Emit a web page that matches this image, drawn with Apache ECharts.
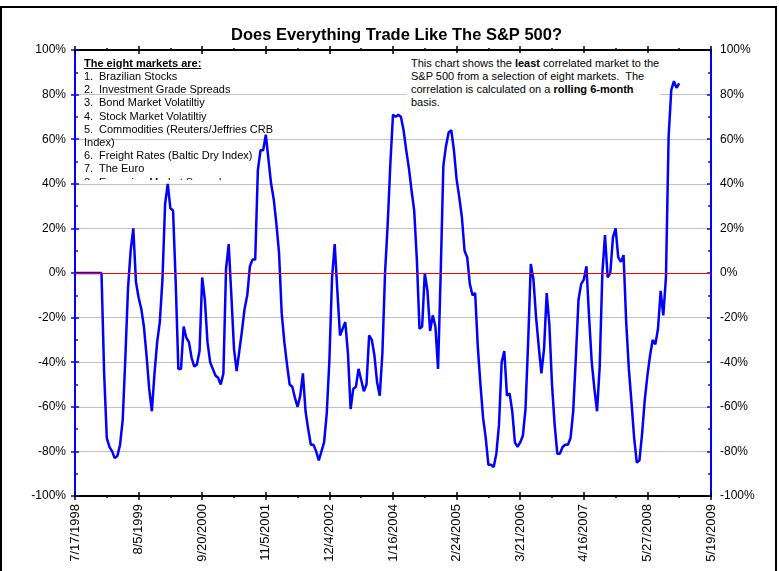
<!DOCTYPE html>
<html>
<head>
<meta charset="utf-8">
<script src="https://cdn.jsdelivr.net/npm/echarts@6/dist/echarts.min.js"></script>
<style>
  html, body { margin: 0; padding: 0; background: #fff; }
  #wrap { position: relative; width: 779px; height: 571px; overflow: hidden; }
  #chart { position: absolute; left: 0; top: 0; width: 779px; height: 571px; }
  .note { position: absolute; font-family: "Liberation Sans", Arial, sans-serif; font-size: 11px; line-height: 13.2px; color: #000; white-space: nowrap; }
  #markets { left: 84px; top: 56.7px; width: 200px; height: 123.3px; overflow: hidden; }
  #markets .head { font-weight: bold; text-decoration: underline; }
  #markets .num { display: inline-block; width: 15px; }
  #about { left: 407px; top: 53px; width: 253px; height: 60px; background: #fff; padding-left: 4px; box-sizing: border-box; padding-top: 3.7px; }
</style>
</head>
<body>
<div id="wrap">
  <div id="chart"></div>
  <div id="markets" class="note"></div>
  <div id="about" class="note">This chart shows the <b>least</b> correlated market to the<br>S&amp;P 500 from a selection of eight markets.&nbsp; The<br>correlation is calculated on a <b>rolling 6-month</b><br>basis.</div>
</div>
<script>
// tick labels on the date axis (one every 24 samples)
const xLabels = ["7/17/1998", "8/5/1999", "9/20/2000", "11/5/2001", "12/4/2002", "1/16/2004",
  "2/24/2005", "3/21/2006", "4/16/2007", "5/27/2008", "5/19/2009"];
const samplesPerLabel = 24;

// the eight markets listed in the note
const marketNames = ["Brazilian Stocks", "Investment Grade Spreads", "Bond Market Volatiltiy",
  "Stock Market Volatiltiy", "Commodities (Reuters/Jeffries CRB", "Freight Rates (Baltic Dry Index)",
  "The Euro", "Emerging Market Spreads"];

// least correlated market vs S&P 500, rolling 6-month correlation (%)
const correlation = [
  0, 0, 0, 0, 0, 0, 0, 0, 0, 0, 0, -45, -74, -78, -80, -83, -82, -77, -66, -38,
  -7, 10, 20, -4, -11, -16, -24, -37, -52, -62, -45, -31, -22, -3, 31, 40, 29, 28, -4, -43,
  -43, -24, -29, -31, -38, -42, -41, -35, -2, -12, -31, -40, -43, -46, -47, -50, -45, 2, 13, -10,
  -34, -44, -35, -26, -16, -10, 3, 6, 6, 46, 55, 55, 62, 51, 40, 33, 22, 9, -18, -31,
  -41, -50, -51, -56, -60, -55, -45, -62, -70, -77, -77, -80, -84, -80, -76, -63, -39, -2, 13, -8,
  -28, -25, -22, -36, -61, -52, -51, -43, -48, -53, -50, -28, -30, -37, -49, -55, -36, 0, 22, 49,
  71, 70, 71, 70, 64, 55, 47, 37, 28, 6, -25, -24, 0, -8, -26, -19, -24, -43, 0, 48,
  57, 63, 64, 55, 42, 34, 25, 10, 7, -5, -10, -9, -33, -50, -65, -74, -86, -86, -87, -81,
  -68, -40, -35, -55, -54, -62, -76, -78, -76, -73, -61, -31, 4, -3, -20, -33, -45, -34, -9, -23,
  -50, -68, -81, -81, -78, -77, -77, -74, -62, -38, -12, -5, -3, 3, -20, -40, -52, -62, -42, 0,
  17, -2, 0, 16, 20, 7, 5, 8, -22, -43, -58, -74, -85, -84, -72, -57, -46, -37, -30, -32,
  -25, -8, -19, -2, 61, 82, 86, 83, 85
];

// --- note box: the eight markets ---
const marketsBox = document.getElementById("markets");
let html = '<div class="head">The eight markets are:</div>';
marketNames.forEach((name, i) => {
  html += `<div><span class="num">${i + 1}.</span>${name}</div>`;
  if (i === 4) html += "<div>Index)</div>";
});
marketsBox.innerHTML = html;

const FONT = "Liberation Sans, Arial, sans-serif";
const xMax = (xLabels.length - 1) * samplesPerLabel;

function xAxisCfg(position, inside, withLine, withLabels) {
  return {
    type: "value",
    position: position,
    min: 0,
    max: xMax,
    interval: samplesPerLabel,
    axisLine: { show: withLine, onZero: false, lineStyle: { color: "#000", width: 2 } },
    axisTick: { show: true, inside: inside, length: 4, lineStyle: { color: "#000", width: 1.5 } },
    minorTick: { show: !inside, splitNumber: 2, length: 2, lineStyle: { color: "#000", width: 1.5 } },
    splitLine: { show: false },
    axisLabel: {
      show: withLabels,
      rotate: 90,
      margin: 8,
      color: "#000",
      fontSize: 13,
      fontFamily: FONT,
      formatter: (v) => xLabels[Math.round(v / samplesPerLabel)] || "",
    },
  };
}

function yAxisCfg(position, inside, showLabels, showSplit) {
  return {
    type: "value",
    position: position,
    min: -100,
    max: 100,
    interval: 20,
    axisLine: { show: true, onZero: false, lineStyle: { color: "#0000ff", width: 2 } },
    axisTick: { show: true, inside: inside, length: 4, lineStyle: { color: "#0000ff", width: 1.5 } },
    minorTick: { show: inside, splitNumber: 2, length: 3, lineStyle: { color: "#0000ff", width: 1.5 } },
    splitLine: { show: showSplit, lineStyle: { color: "#c0c0c0", width: 1 } },
    axisLabel: {
      show: showLabels,
      margin: 9,
      color: "#000",
      fontSize: 12,
      fontFamily: FONT,
      formatter: (v) => v + "%",
    },
  };
}

const chart = echarts.init(document.getElementById("chart"));

chart.setOption({
  animation: false,
  backgroundColor: "#fff",
  title: {
    text: "Does Everything Trade Like The S&P 500?",
    left: 226,
    top: 22,
    textStyle: { fontFamily: FONT, fontSize: 16.5, fontWeight: "bold", color: "#000" },
  },
  grid: { left: 75, top: 50, width: 636, height: 446 },
  xAxis: [
    xAxisCfg("bottom", false, true, true),
    xAxisCfg("bottom", true, false, false),
    xAxisCfg("top", false, true, false),
    xAxisCfg("top", true, false, false),
  ],
  yAxis: [
    yAxisCfg("left", true, true, true),
    yAxisCfg("right", true, true, false),
    Object.assign(yAxisCfg("left", false, false, false), { minorTick: { show: false } }),
  ],
  graphic: [
    {
      type: "rect",
      shape: { x: 1, y: 7, width: 775, height: 620 },
      style: { fill: "none", stroke: "#000", lineWidth: 2 },
      silent: true,
      z: 100,
    },
  ],
  series: [
    {
      // zero reference line
      type: "line",
      data: [],
      z: 1,
      silent: true,
      markLine: {
        symbol: "none",
        silent: true,
        label: { show: false },
        lineStyle: { color: "#ff0000", width: 1, type: "solid" },
        data: [{ yAxis: 0 }],
      },
    },
    {
      name: "correlation",
      type: "line",
      z: 3,
      showSymbol: false,
      lineStyle: { color: "#0000ff", width: 2.5 },
      itemStyle: { color: "#0000ff" },
      data: correlation.map((v, i) => [i, v]),
    },
  ],
});
</script>
</body>
</html>
